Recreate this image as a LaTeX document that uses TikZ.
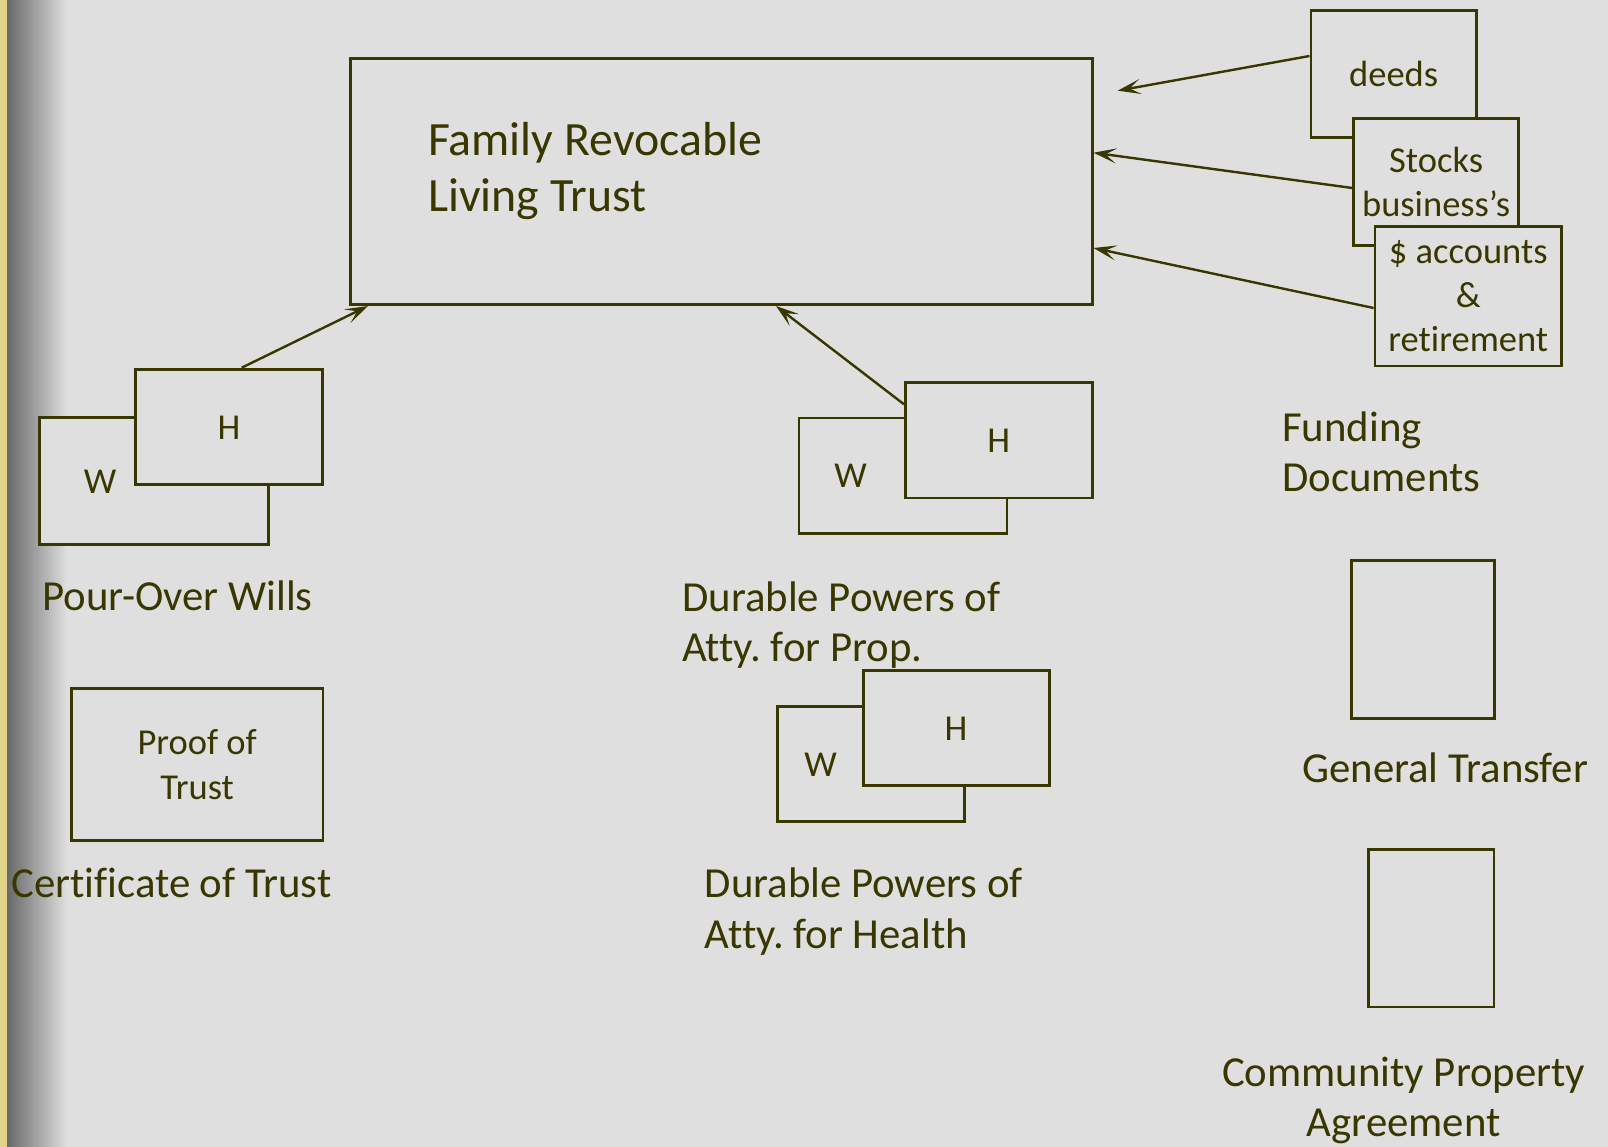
\documentclass[tikz,border=0pt]{standalone}
\usepackage{fontspec}
\setmainfont[Ligatures=NoCommon]{Carlito}
\usetikzlibrary{arrows.meta}
\definecolor{ink}{RGB}{57,55,0}
\definecolor{bg}{RGB}{223,223,223}
\definecolor{strip}{RGB}{226,211,138}
\definecolor{shadegray}{RGB}{104,104,104}
\frenchspacing
\begin{document}
\begin{tikzpicture}[x=1pt,y=-1pt,
  doc/.style={draw=ink, line width=2.8pt, fill=bg, inner sep=0pt, text=ink, align=center, font=\fontsize{36.5}{44}\selectfont},
  lbl/.style={text=ink, inner sep=0pt, font=\fontsize{42.8}{50.5}\selectfont},
  small/.style={text=ink, inner sep=0pt, font=\fontsize{36.5}{44}\selectfont},
  conn/.style={draw=ink, line width=2.4pt, -{Stealth[length=23pt,width=15pt,inset=11pt]}}
]
\useasboundingbox (0,0) rectangle (1608,1146);
\fill[bg] (-5,-5) rectangle (1613,1151);
\foreach \i in {0,...,59}{
  \pgfmathsetmacro{\pct}{100*(1-\i/60)}
  \fill[shadegray!\pct!bg] (7+\i,-5) rectangle (8.2+\i,1151);
}
\fill[strip] (-5,-5) rectangle (7,1151);

% main trust box
\node[doc, minimum width=741.4pt, minimum height=246.5pt] (main) at (721.4,181.35) {};
\node[lbl, anchor=base west, align=left, font=\fontsize{47.8}{56.7}\selectfont] (famtxt) at (428,211.7) {Family Revocable\\Living Trust};

% funding documents
\node[doc, minimum width=165.5pt, minimum height=126.9pt] (deeds) at (1393.65,73.85) {deeds};
\node[doc, minimum width=164.9pt, minimum height=127.5pt] (stocks) at (1436.15,181.85) {Stocks\\business’s};
\node[doc, minimum width=186.5pt, minimum height=139.8pt] (accounts) at (1468.25,296) {\$ accounts\\\&\\retirement};
\node[lbl, anchor=base west, align=left] (fundtxt) at (1282,491.7) {Funding\\Documents};

\coordinate (deedtip) at (1117.7,90.7);
\draw[conn] ([yshift=17.85pt]deeds.west) -- (deedtip);
\draw[conn] ([yshift=-6.15pt]stocks.west) -- ([yshift=28.65pt]main.east);
\draw[conn] ([yshift=-12pt]accounts.west) -- ([yshift=-66.65pt]main.east);

% pour-over wills
\node[doc, minimum width=228.9pt, minimum height=127.5pt] (pwW) at (154.15,480.85) {};
\node[doc, minimum width=187.2pt, minimum height=115.5pt] (pwH) at (229,426.85) {};
\node[small, anchor=base] (pwWl) at (100,493.3) {W};
\node[small, anchor=base] (pwHl) at (229,439) {H};
\node[lbl, anchor=base west] (pwtxt) at (42,610) {Pour-Over Wills};
\draw[conn] ([xshift=12.7pt]pwH.north) -- ([xshift=-353.4pt]main.south);

% durable powers, property
\node[doc, minimum width=208pt, minimum height=115.7pt] (prW) at (902.9,475.75) {};
\node[doc, minimum width=187.2pt, minimum height=115.8pt] (prH) at (999,440) {};
\node[small, anchor=base] (prWl) at (850.7,487.3) {W};
\node[small, anchor=base] (prHl) at (998.7,452.3) {H};
\node[lbl, anchor=base west, align=left] (prtxt) at (682,661.5) {Durable Powers of\\Atty. for Prop.};
\draw[conn] ([yshift=35.7pt]prH.west) -- ([xshift=54.6pt]main.south);

% durable powers, health
\node[doc, minimum width=186.9pt, minimum height=115.2pt] (hlW) at (870.85,763.7) {};
\node[doc, minimum width=186.2pt, minimum height=114.6pt] (hlH) at (956.2,728) {};
\node[small, anchor=base] (hlWl) at (820.7,776) {W};
\node[small, anchor=base] (hlHl) at (956,740) {H};
\node[lbl, anchor=base west, align=left] (hltxt) at (704.5,948.3) {Durable Powers of\\Atty. for Health};

% certificate of trust
\node[doc, minimum width=251.5pt, minimum height=151.9pt, font=\fontsize{36.5}{45}\selectfont] (proof) at (197.15,764.65) {Proof of\\Trust};
\node[lbl, anchor=base west] (cert) at (11,897.3) {Certificate of Trust};

% general transfer
\node[doc, minimum width=142.9pt, minimum height=157.9pt] (gt) at (1422.85,639.65) {};
\node[lbl, anchor=base west] (gttxt) at (1302,782.3) {General Transfer};

% community property agreement
\node[doc, minimum width=125.8pt, minimum height=157.8pt] (cpa) at (1431,928) {};
\node[lbl, anchor=base, align=center] (cpatxt) at (1403.7,1136.7) {Community Property\\Agreement};
\end{tikzpicture}
\end{document}
